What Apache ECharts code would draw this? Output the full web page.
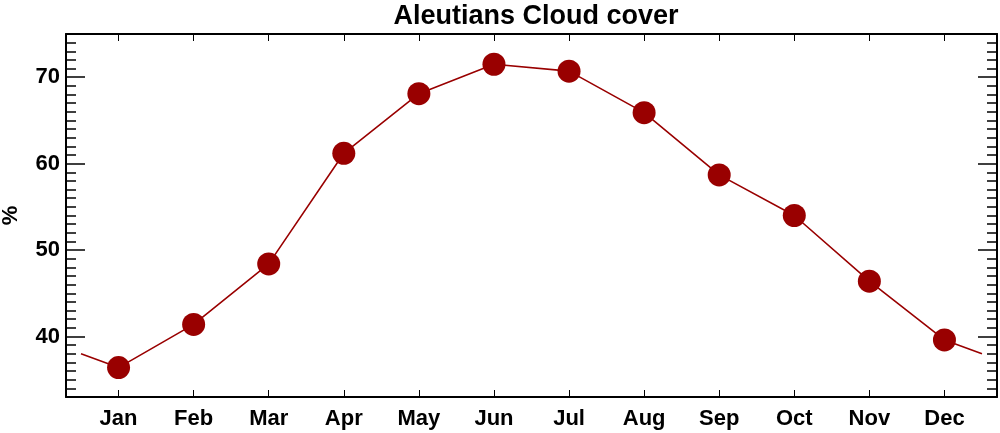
<!DOCTYPE html>
<html><head><meta charset="utf-8">
<script src="https://cdn.jsdelivr.net/npm/echarts@6/dist/echarts.min.js"></script>
<style>html,body{margin:0;padding:0;background:#fff}#c{width:1000px;height:433px}</style>
</head><body><div id="c"></div>
<script>
const months = ['Jan','Feb','Mar','Apr','May','Jun','Jul','Aug','Sep','Oct','Nov','Dec'];
const cloudCover = [36.4, 41.4, 48.4, 61.2, 68.1, 71.5, 70.7, 65.9, 58.7, 54.0, 46.4, 39.6];
const edgeValue = 38.0; // line value at the half-month edges (Dec/Jan wrap)
const yMajorTicks = [40, 50, 60, 70];

const monthPos = months.map((m, i) => i + 1);
const lineData = [[0.5, edgeValue]].concat(cloudCover.map((v, i) => [i + 1, v])).concat([[12.5, edgeValue]]);
const pointData = cloudCover.map((v, i) => [i + 1, v]);
const minorTicks = [];
for (let v = 34; v <= 74; v++) if (v % 10 !== 0) minorTicks.push(v);

const font = 'Liberation Sans, Arial, Helvetica, sans-serif';
const axisLine = {show: true, onZero: false, lineStyle: {color: '#000', width: 2}};
const yBase = {type: 'value', min: 33, max: 75, splitLine: {show: false}};
const xBase = {type: 'value', min: 0.3, max: 12.7, splitLine: {show: false}};

const chart = echarts.init(document.getElementById('c'));
chart.setOption({
  animation: false,
  title: {text: 'Aleutians Cloud cover', left: 531, textAlign: 'center', top: -2,
    textStyle: {fontFamily: font, fontWeight: 'bold', fontSize: 27, color: '#000'}},
  grid: {left: 66, right: 3, top: 34, bottom: 36, outerBoundsMode: 'none', containLabel: false},
  xAxis: [
    Object.assign({}, xBase, {position: 'bottom', axisLine,
      axisTick: {inside: true, length: 7, customValues: monthPos, lineStyle: {color: '#000', width: 1}},
      axisLabel: {customValues: monthPos, formatter: v => months[Math.round(v) - 1], margin: 11,
        fontFamily: font, fontWeight: 'bold', fontSize: 22, color: '#000'}}),
    Object.assign({}, xBase, {position: 'top', axisLine,
      axisTick: {inside: true, length: 7, customValues: monthPos, lineStyle: {color: '#000', width: 1}},
      axisLabel: {show: false}})
  ],
  yAxis: [
    Object.assign({}, yBase, {position: 'left', axisLine, name: '%', nameLocation: 'middle', nameGap: 44,
      nameRotate: 90,
      nameTextStyle: {fontFamily: font, fontWeight: 'bold', fontSize: 22, color: '#000'},
      axisTick: {inside: true, length: 19, customValues: yMajorTicks, lineStyle: {color: '#000', width: 1.5}},
      axisLabel: {customValues: yMajorTicks, margin: 6, fontFamily: font, fontWeight: 'bold', fontSize: 22, color: '#000'}}),
    Object.assign({}, yBase, {position: 'right', axisLine,
      axisTick: {inside: true, length: 19, customValues: yMajorTicks, lineStyle: {color: '#000', width: 1.5}},
      axisLabel: {show: false}}),
    Object.assign({}, yBase, {position: 'left', axisLine: {show: false},
      axisTick: {inside: true, length: 10, customValues: minorTicks, lineStyle: {color: '#000', width: 1.5}},
      axisLabel: {show: false}}),
    Object.assign({}, yBase, {position: 'right', axisLine: {show: false},
      axisTick: {inside: true, length: 10, customValues: minorTicks, lineStyle: {color: '#000', width: 1.5}},
      axisLabel: {show: false}})
  ],
  series: [
    {type: 'line', data: lineData, showSymbol: false, symbol: 'none',
      lineStyle: {color: '#990000', width: 1.6}, z: 2},
    {type: 'scatter', data: pointData, symbol: 'circle', symbolSize: 23,
      itemStyle: {color: '#990000', opacity: 1}, z: 3}
  ]
});
</script></body></html>
